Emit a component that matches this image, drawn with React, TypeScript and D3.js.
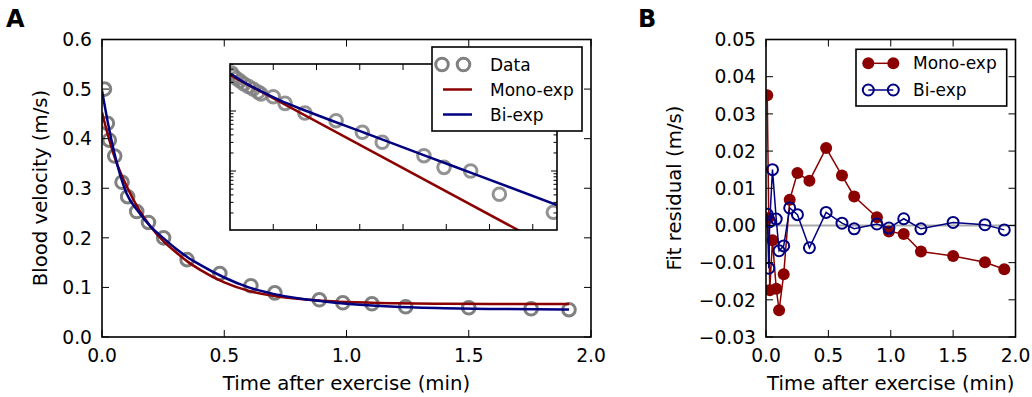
import * as d3 from "d3";

// shared sample times (min after exercise)
const times = [0.01, 0.022, 0.03, 0.052, 0.082, 0.105, 0.142, 0.19, 0.252, 0.348, 0.482, 0.609, 0.707, 0.889, 0.985, 1.104, 1.242, 1.5, 1.755, 1.91];
const velocity = [0.5, 0.431, 0.397, 0.365, 0.312, 0.283, 0.253, 0.231, 0.2, 0.156, 0.128, 0.1035, 0.089, 0.075, 0.069, 0.067, 0.061, 0.059, 0.057, 0.055];

// fitted curves
const fitTimes = [0, 0.025, 0.05, 0.1, 0.15, 0.2, 0.25, 0.3, 0.35, 0.4, 0.5, 0.6, 0.7, 0.8, 0.9, 1.0, 1.2, 1.4, 1.6, 1.91];
const monoFit = [0.453, 0.406, 0.365, 0.305, 0.258, 0.222, 0.194, 0.172, 0.152, 0.136, 0.11, 0.093, 0.083, 0.077, 0.073, 0.0705, 0.068, 0.067, 0.0665, 0.0665];
const biFit = [0.497, 0.43, 0.372, 0.29, 0.252, 0.222, 0.2, 0.179, 0.161, 0.146, 0.12, 0.1, 0.087, 0.078, 0.072, 0.067, 0.061, 0.058, 0.0565, 0.0555];

// inset (log scale)
const insetTimes = [0.009, 0.02, 0.038, 0.058, 0.081, 0.107, 0.133, 0.162, 0.179, 0.25, 0.318, 0.433, 0.613, 0.765, 0.88, 1.121, 1.237, 1.391, 1.557, 1.869];
const insetValues = [0.43, 0.383, 0.348, 0.316, 0.282, 0.256, 0.233, 0.207, 0.192, 0.173, 0.134, 0.0926, 0.0689, 0.0442, 0.0301, 0.018, 0.0115, 0.01, 0.0041, 0.00205];
const insetBiTimes = [0, 0.087, 0.164, 0.289, 0.453, 0.78, 1.127, 1.406, 1.89];
const insetBiFit = [0.425, 0.293, 0.224, 0.15, 0.0973, 0.043, 0.0181, 0.00905, 0.00271];
const insetMonoTimes = [0, 1.89];
const insetMonoFit = [0.398, 0.000464];

// residuals (panel B)
const monoResidual = [0.035, 0.002, -0.0174, -0.004, -0.017, -0.0228, -0.0131, 0.0069, 0.0141, 0.012, 0.0208, 0.0134, 0.0078, 0.0022, -0.0016, -0.0023, -0.007, -0.0082, -0.0099, -0.0118];
const biResidual = [0.003, -0.0115, 0.001, 0.015, 0.0017, -0.0068, -0.0055, 0.0047, 0.0029, -0.006, 0.0035, 0.0006, -0.0009, 0.0004, -0.0007, 0.0018, -0.0009, 0.0008, 0.0002, -0.0012];

const xTicks = [0, 0.5, 1.0, 1.5, 2.0];
const yTicksA = [0, 0.1, 0.2, 0.3, 0.4, 0.5, 0.6];
const yTicksB = [-0.03, -0.02, -0.01, 0, 0.01, 0.02, 0.03, 0.04, 0.05];
const insetXTicks = [0.25, 0.5, 0.75, 1.0, 1.25, 1.5, 1.75];

const FONT = "DejaVu Sans";
const RED = "#8b0000";
const BLUE = "#000080";
const GRAY = "#808080";
const TICK_FS = 18.7;
const LABEL_FS = 19.7;
const LEGEND_FS = 17;

function Frame({ x0, x1, y0, y1 }: { x0: number; x1: number; y0: number; y1: number }) {
  return <rect x={x0} y={y0} width={x1 - x0} height={y1 - y0} fill="none" stroke="#000" strokeWidth={1.6} />;
}

export default function App() {
  // panel A
  const xA = d3.scaleLinear().domain([0, 2]).range([102, 591]);
  const yA = d3.scaleLinear().domain([0, 0.6]).range([337, 39.5]);
  // panel B
  const xB = d3.scaleLinear().domain([0, 2]).range([766, 1015.5]);
  const yB = d3.scaleLinear().domain([-0.03, 0.05]).range([337, 39.5]);
  // inset
  const xI = d3.scaleLinear().domain([0, 1.89]).range([230, 557]);
  const yI = d3.scaleLog().domain([0.00104, 0.607]).range([230, 64]);

  const fmt1 = d3.format(".1f");
  const fmt2 = d3.format(".2f");

  const lineA = d3
    .line<number>()
    .x((_, i) => xA(fitTimes[i]))
    .y((d) => yA(d))
    .curve(d3.curveMonotoneX);

  const insetLine = (ts: number[]) =>
    d3
      .line<number>()
      .x((_, i) => xI(ts[i]))
      .y((d) => yI(d))
      .curve(d3.curveMonotoneX);

  const resLine = d3
    .line<number>()
    .x((_, i) => xB(times[i]))
    .y((d) => yB(d));

  const insetYTicks = yI.ticks();

  return (
    <div style={{ position: "absolute", left: 0, top: 0 }}>
      <svg width={1032} height={397} style={{ display: "block", fontFamily: FONT }}>
        <rect width={1032} height={397} fill="#fff" />
        <defs>
          <clipPath id="clipA">
            <rect x={102} y={39.5} width={489} height={297.5} />
          </clipPath>
          <clipPath id="clipI">
            <rect x={230} y={64} width={327} height={166} />
          </clipPath>
          <clipPath id="clipB">
            <rect x={766} y={39.5} width={249.5} height={297.5} />
          </clipPath>
        </defs>

        {/* ---------- Panel A ---------- */}
        <text x={6} y={27} fontSize={24} fontWeight="bold">A</text>
        <g clipPath="url(#clipA)">
          {times.map((t, i) => (
            <circle key={i} cx={xA(t)} cy={yA(velocity[i])} r={6.3} fill="none" stroke={GRAY} strokeWidth={3} />
          ))}
          <path d={lineA(monoFit) || ""} fill="none" stroke={RED} strokeWidth={2.5} />
          <path d={lineA(biFit) || ""} fill="none" stroke={BLUE} strokeWidth={2.5} />
        </g>
        {xTicks.map((t) => (
          <g key={t}>
            <line x1={xA(t)} x2={xA(t)} y1={337} y2={330} stroke="#000" />
            <line x1={xA(t)} x2={xA(t)} y1={39.5} y2={46.5} stroke="#000" />
            <text x={xA(t)} y={362} fontSize={TICK_FS} textAnchor="middle">{fmt1(t)}</text>
          </g>
        ))}
        {yTicksA.map((v) => (
          <g key={v}>
            <line x1={102} x2={109} y1={yA(v)} y2={yA(v)} stroke="#000" />
            <line x1={591} x2={584} y1={yA(v)} y2={yA(v)} stroke="#000" />
            <text x={92} y={yA(v) + 6.8} fontSize={TICK_FS} textAnchor="end">{fmt1(v)}</text>
          </g>
        ))}
        <Frame x0={102} x1={591} y0={39.5} y1={337} />
        <text x={346.5} y={390} fontSize={LABEL_FS} textAnchor="middle">Time after exercise (min)</text>
        <text transform="translate(47,188) rotate(-90)" fontSize={LABEL_FS} textAnchor="middle">Blood velocity (m/s)</text>

        {/* inset */}
        <rect x={230} y={64} width={327} height={166} fill="#fff" />
        <g clipPath="url(#clipI)">
          {insetTimes.map((t, i) => (
            <circle key={i} cx={xI(t)} cy={yI(insetValues[i])} r={6.3} fill="none" stroke={GRAY} strokeWidth={3} opacity={0.85} />
          ))}
          <path d={insetLine(insetMonoTimes)(insetMonoFit) || ""} fill="none" stroke={RED} strokeWidth={2.5} />
          <path d={insetLine(insetBiTimes)(insetBiFit) || ""} fill="none" stroke={BLUE} strokeWidth={2.5} />
        </g>
        {insetXTicks.map((t) => (
          <g key={t}>
            <line x1={xI(t)} x2={xI(t)} y1={230} y2={224} stroke="#000" />
            <line x1={xI(t)} x2={xI(t)} y1={64} y2={70} stroke="#000" />
          </g>
        ))}
        {insetYTicks.map((v, i) => {
          const major = Math.abs(Math.log10(v) - Math.round(Math.log10(v))) < 1e-6;
          const len = major ? 6 : 3.5;
          return (
            <g key={i}>
              <line x1={230} x2={230 + len} y1={yI(v)} y2={yI(v)} stroke="#000" />
              <line x1={557} x2={557 - len} y1={yI(v)} y2={yI(v)} stroke="#000" />
            </g>
          );
        })}
        <Frame x0={230} x1={557} y0={64} y1={230} />

        {/* legend A */}
        <rect x={432} y={47} width={150} height={84} fill="#fff" stroke="#000" strokeWidth={1.6} />
        <circle cx={442} cy={64.5} r={6.3} fill="none" stroke={GRAY} strokeWidth={3} />
        <circle cx={463.5} cy={64.5} r={6.3} fill="none" stroke={GRAY} strokeWidth={3} />
        <text x={490} y={70.5} fontSize={LEGEND_FS}>Data</text>
        <line x1={443} x2={472} y1={89.5} y2={89.5} stroke={RED} strokeWidth={2.5} />
        <text x={490} y={95.5} fontSize={LEGEND_FS}>Mono-exp</text>
        <line x1={443} x2={472} y1={114.5} y2={114.5} stroke={BLUE} strokeWidth={2.5} />
        <text x={490} y={120.5} fontSize={LEGEND_FS}>Bi-exp</text>

        {/* ---------- Panel B ---------- */}
        <text x={638} y={27} fontSize={24} fontWeight="bold">B</text>
        <line x1={766} x2={1015.5} y1={yB(0)} y2={yB(0)} stroke="#aaaaaa" strokeWidth={2} />
        <g clipPath="url(#clipB)">
          <path d={resLine(monoResidual) || ""} fill="none" stroke={RED} strokeWidth={1.5} />
          {times.map((t, i) => (
            <circle key={i} cx={xB(t)} cy={yB(monoResidual[i])} r={6} fill={RED} />
          ))}
          <path d={resLine(biResidual) || ""} fill="none" stroke={BLUE} strokeWidth={1.5} />
          {times.map((t, i) => (
            <circle key={i} cx={xB(t)} cy={yB(biResidual[i])} r={5.5} fill="none" stroke={BLUE} strokeWidth={2} />
          ))}
        </g>
        {xTicks.map((t) => (
          <g key={t}>
            <line x1={xB(t)} x2={xB(t)} y1={337} y2={330} stroke="#000" />
            <line x1={xB(t)} x2={xB(t)} y1={39.5} y2={46.5} stroke="#000" />
            <text x={xB(t)} y={362} fontSize={TICK_FS} textAnchor="middle">{fmt1(t)}</text>
          </g>
        ))}
        {yTicksB.map((v) => (
          <g key={v}>
            <line x1={766} x2={773} y1={yB(v)} y2={yB(v)} stroke="#000" />
            <line x1={1015.5} x2={1008.5} y1={yB(v)} y2={yB(v)} stroke="#000" />
            <text x={756} y={yB(v) + 6.8} fontSize={TICK_FS} textAnchor="end">{fmt2(v)}</text>
          </g>
        ))}
        <Frame x0={766} x1={1015.5} y0={39.5} y1={337} />
        <text x={890.75} y={390} fontSize={LABEL_FS} textAnchor="middle">Time after exercise (min)</text>
        <text transform="translate(681,188) rotate(-90)" fontSize={LABEL_FS} textAnchor="middle">Fit residual (m/s)</text>

        {/* legend B */}
        <rect x={856} y={49.3} width={150.7} height={56.7} fill="#fff" stroke="#000" strokeWidth={1.6} />
        <line x1={868.3} x2={893.3} y1={63.3} y2={63.3} stroke={RED} strokeWidth={1.5} />
        <circle cx={868.3} cy={63.3} r={6} fill={RED} />
        <circle cx={893.3} cy={63.3} r={6} fill={RED} />
        <text x={913} y={69.3} fontSize={LEGEND_FS}>Mono-exp</text>
        <line x1={868.3} x2={893.3} y1={90} y2={90} stroke={BLUE} strokeWidth={1.5} />
        <circle cx={868.3} cy={90} r={5.5} fill="none" stroke={BLUE} strokeWidth={2} />
        <circle cx={893.3} cy={90} r={5.5} fill="none" stroke={BLUE} strokeWidth={2} />
        <text x={913} y={96} fontSize={LEGEND_FS}>Bi-exp</text>
      </svg>
    </div>
  );
}
